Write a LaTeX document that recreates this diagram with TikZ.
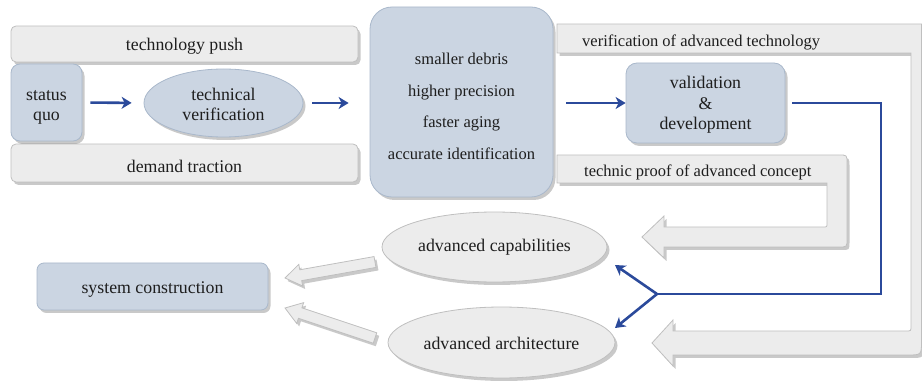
\documentclass[tikz,border=0pt]{standalone}
\usepackage{fontspec}
\setmainfont{Liberation Serif}
\usetikzlibrary{shapes.geometric,arrows.meta,shadows,calc}
\definecolor{bluefill}{HTML}{CBD5E2}
\definecolor{blueline}{HTML}{A9B8CB}
\definecolor{grayfill}{HTML}{ECECEC}
\definecolor{grayline}{HTML}{BFBFBF}
\definecolor{arrowblue}{HTML}{2B4A9B}
\definecolor{txt}{HTML}{1E1E1E}
\tikzset{
 base/.style={font=\fontsize{17.8}{20.5}\selectfont, text=txt, align=center, inner sep=0pt},
 small/.style={font=\fontsize{16.5}{20.5}\selectfont},
 shade/.style={drop shadow={shadow xshift=2.5pt, shadow yshift=-3pt, opacity=0.3, fill=black!70}},
 graybox/.style={base, draw=grayline, fill=grayfill, rounded corners=5pt, line width=0.8pt, shade},
 bluebox/.style={base, draw=blueline, fill=bluefill, line width=0.8pt, shade},
 blueell/.style={base, ellipse, draw=blueline, fill=bluefill, line width=0.8pt, shade},
 grayell/.style={base, ellipse, draw=grayline, fill=grayfill, line width=0.8pt, shade},
 flow/.style={draw=arrowblue, line width=2.6pt, -{Stealth[length=10pt,width=12pt,inset=3pt]}},
 feed/.style={draw=arrowblue, line width=2.2pt},
 band/.style={draw=grayline, fill=grayfill, line width=0.8pt, shade},
}
\newcommand\blockarrow[2]{%
 \coordinate (bh) at ($(#2)!16pt!(#1)$);
 \draw[band] ($(#1)!5.5pt!90:(#2)$) -- ($(bh)!5.5pt!90:(#2)$) -- ($(bh)!11pt!90:(#2)$) -- (#2)
   -- ($(bh)!11pt!-90:(#2)$) -- ($(bh)!5.5pt!-90:(#2)$) -- ($(#1)!5.5pt!-90:(#2)$) -- cycle;
}
\begin{document}
\begin{tikzpicture}[x=1pt,y=-1pt]
\useasboundingbox (0,0) rectangle (922,382);
\clip (0,0) rectangle (922,382);

% bent feedback bands
\draw[band] (557,24) -- (921.5,24) -- (921.5,341) .. controls (921.5,355) .. (907.5,355)
  -- (673,355) -- (673,366) -- (652,343) -- (673,320) -- (673,331)
  -- (906,331) .. controls (911,331) .. (911,326) -- (911,53) -- (557,53) -- cycle;
\draw[band] (557,155) -- (839,155) .. controls (847,155) .. (847,163) -- (847,239)
  .. controls (847,247) .. (839,247) -- (664,247) -- (664,258) -- (642,237) -- (664,216)
  -- (664,227) -- (823,227) .. controls (827,227) .. (827,223) -- (827,183) -- (557,183) -- cycle;
\node[base, small, anchor=base west] (vat) at (582,46.7) {verification of advanced technology};
\node[base, small, anchor=base west] (tpc) at (584,176.7) {technic proof of advanced concept};

% nodes
\node[graybox, minimum width=347pt, minimum height=36pt, text height=16pt, text depth=2pt] (push) at (184.5,44) {technology push};
\node[graybox, minimum width=347pt, minimum height=38pt, text height=21pt, text depth=2pt] (demand) at (184.5,163) {demand traction};
\node[bluebox, rounded corners=9pt, minimum width=71pt, minimum height=77pt, text height=40pt, text depth=3pt] (status) at (46.5,102.5) {status\\quo};
\node[blueell, minimum width=159pt, minimum height=68pt, text height=38.4pt, text depth=3pt] (tv) at (223.5,103) {technical\\verification};
\node[bluebox, small, rounded corners=22pt, minimum width=183pt, minimum height=190pt, text height=117.6pt, text depth=3pt] (big) at (461.5,102) {smaller debris\\[11pt]higher precision\\[11pt]faster aging\\[11pt]accurate identification};
\node[bluebox, rounded corners=11pt, minimum width=159pt, minimum height=80pt, text height=57pt, text depth=3pt] (vd) at (705.5,103) {validation\\\&\\development};
\node[bluebox, rounded corners=7pt, minimum width=231pt, minimum height=47pt, text height=16pt, text depth=2.4pt] (sc) at (152.5,286.5) {system construction};
\node[grayell, minimum width=225pt, minimum height=70pt, text height=12pt, text depth=2.6pt] (cap) at (494.5,247) {advanced capabilities};
\node[grayell, minimum width=227pt, minimum height=71pt, text height=17pt, text depth=2pt] (arch) at (501.5,342.5) {advanced architecture};

% blue flow
\draw[flow, shorten <=8pt, shorten >=12pt] (status.east) -- (tv.west);
\draw[flow, shorten <=9pt, shorten >=21pt] (tv.east) -- (big.west |- tv.east);
\draw[flow, shorten <=13pt] (big.east |- vd.west) -- (vd.west);
\coordinate (c1) at (881,103);
\coordinate (c2) at (881,294);
\coordinate (br) at (657,294);
\coordinate (capin) at (615,265);
\coordinate (archin) at (615,328);
\draw[feed, shorten <=7pt, line join=miter] (vd.east) -- (c1) -- (c2) -- (br);
\draw[flow] (br) -- (capin);
\draw[flow] (br) -- (archin);

% gray block arrows to system construction
\coordinate (ua1) at (375,262);
\coordinate (ua2) at (285,278);
\coordinate (la1) at (375,338);
\coordinate (la2) at (285,308);
\blockarrow{ua1}{ua2}
\blockarrow{la1}{la2}
\end{tikzpicture}
\end{document}
